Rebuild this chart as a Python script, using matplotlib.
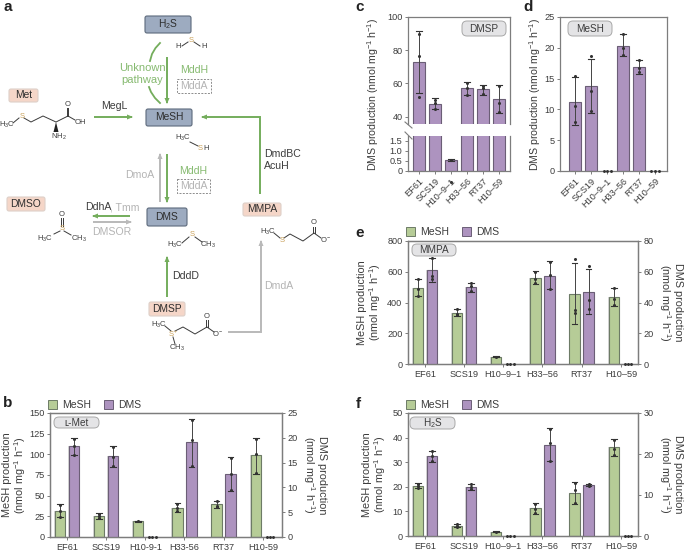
import matplotlib
matplotlib.use('Agg')
import matplotlib.pyplot as plt
from matplotlib.patches import FancyBboxPatch, Rectangle, Polygon

plt.rcParams['font.family'] = ['Liberation Sans', 'DejaVu Sans']
plt.rcParams['mathtext.default'] = 'regular'
plt.rcParams['font.size'] = 7

W, H = 685, 552
TEXT = '#3c3c3c'
AXC = '#7d7d7d'
GREEN = '#b6cc97'
GREEN_E = '#6d7b66'
PURPLE = '#ad93bf'
PURPLE_E = '#6b5e76'
ARROW = '#74ad5c'
LGREEN = '#86ba70'
GREY = '#b9b9b9'
LGREY = '#b4b4b4'

strains_b = ['EF61', 'SCS19', 'H10-9-1', 'H33-56', 'RT37', 'H10-59']
strains = ['EF61', 'SCS19', 'H10–9–1', 'H33–56', 'RT37', 'H10–59']

# panel b, L-Met
met_mesh = [31, 25, 19, 35.5, 40.5, 99]
met_mesh_lo = [24, 22, 18.5, 30, 35.5, 76]
met_mesh_hi = [40, 29, 19.5, 41, 44, 120]
met_mesh_pts = [[39, 31, 24], [28, 25, 23], [19], [40, 35, 31], [43, 38, 36], [119, 100, 77]]
met_dms = [18.3, 16.3, 0, 19.2, 12.7, 0]
met_dms_lo = [16.5, 14.2, 0, 14.2, 9.3, 0]
met_dms_hi = [20, 18.3, 0, 23.7, 16.2, 0]
met_dms_pts = [[19.8, 18.3, 16.6], [18.2, 16.2, 14.3], [], [23.5, 19.5, 14.3], [16, 12.8, 9.4], []]

# panel c, DMSP
dmsp_dms = [73, 47.5, 0.55, 57, 56.5, 50.5]
dmsp_lo = [54, 44.5, 0.5, 53, 53, 42]
dmsp_hi = [91.5, 51, 0.6, 61, 59, 59]
dmsp_pts = [[89.5, 76.5, 52], [50, 48, 44.5], [0.55], [60.5, 57, 53], [58.5, 57.5, 53.5], [58.5, 48, 43]]

# panel d, MeSH
mesh_dms = [11.2, 13.8, 0, 20.3, 16.9, 0]
mesh_lo = [7.5, 9.4, 0, 18.6, 15.8, 0]
mesh_hi = [15.2, 18.2, 0, 22.2, 18.1, 0]
mesh_pts = [[15.5, 10.5, 8], [18.6, 13, 9.8], [], [22.2, 20, 18.8], [18.1, 16.8, 16], []]

# panel e, MMPA
mmpa_mesh = [497, 330, 48, 560, 458, 435]
mmpa_mesh_lo = [442, 315, 46, 520, 262, 380]
mmpa_mesh_hi = [552, 358, 50, 605, 655, 495]
mmpa_mesh_pts = [[550, 490, 445], [355, 325, 318], [48], [600, 550, 525], [685, 350, 330], [495, 420, 385]]
mmpa_dms = [61, 50, 0, 57.5, 47, 0]
mmpa_dms_lo = [53.5, 47, 0, 48.5, 32.5, 0]
mmpa_dms_hi = [69, 53, 0, 67, 61.5, 0]
mmpa_dms_pts = [[69, 57, 55], [52.5, 50.5, 47.5], [], [66.5, 58, 49], [63.5, 41.5, 36], []]

# panel f, H2S
h2s_mesh = [20.5, 4.2, 1.8, 11.5, 17.5, 36]
h2s_mesh_lo = [19.5, 3.7, 1.7, 9, 13.2, 32.5]
h2s_mesh_hi = [21.5, 4.8, 1.9, 13.3, 21.8, 39.5]
h2s_mesh_pts = [[21.3, 20.5, 19.6], [4.7, 4.2, 3.8], [1.8], [13, 11, 9.3], [21.5, 18.5, 13.5], [39, 35.5, 32.8]]
h2s_dms = [19.4, 12, 0, 22.3, 12.4, 0]
h2s_dms_lo = [18, 11.2, 0, 18.2, 12.2, 0]
h2s_dms_hi = [20.8, 12.8, 0, 26.3, 12.7, 0]
h2s_dms_pts = [[20.7, 19.5, 18.2], [12.7, 12, 11.4], [], [26, 22.8, 18.4], [12.6, 12.4, 12.3], []]

fig = plt.figure(figsize=(W / 100, H / 100), dpi=100)


def px_axes(left, top, right, bottom):
    return fig.add_axes([left / W, 1 - bottom / H, (right - left) / W, (bottom - top) / H])


def style_axes(ax):
    ax.patch.set_alpha(0)
    for s in ax.spines.values():
        s.set_color(AXC)
        s.set_linewidth(0.9)
    ax.tick_params(colors=TEXT, color=AXC, labelsize=6.6, length=2.5, width=0.7, pad=1.5)


def draw_bars(ax, xs, vals, lo, hi, pts, color, edge, width, cap=0.07, dot=0.085):
    # soft halo behind each bar as in the original artwork
    ax.bar(xs, vals, width + 2 * cap * 0.25, color='#d6d6d6', zorder=1)
    ax.bar(xs, vals, width, color=color, edgecolor=edge, linewidth=0.8, zorder=2)
    for x, v, l, h, p in zip(xs, vals, lo, hi, pts):
        if v == 0:
            ax.plot([x - dot, x, x + dot], [v, v, v], ls='', marker='o', ms=1.1,
                    color='#333333', zorder=5, clip_on=False)
            continue
        ax.plot([x, x], [l, h], color='#444444', lw=0.7, zorder=4)
        ax.plot([x - cap, x + cap], [l, l], color='#333333', lw=0.8, zorder=4)
        ax.plot([x - cap, x + cap], [h, h], color='#333333', lw=0.8, zorder=4)
        ax.plot([x] * len(p), p, ls='', marker='o', ms=1.2, color='#333333', zorder=5, clip_on=False)


def pill(fig_ax, left, top, right, bottom, label):
    fig_ax.add_patch(FancyBboxPatch((left + 3, top + 3), right - left - 6, bottom - top - 6,
                                    boxstyle='round,pad=3,rounding_size=5', fc='#e4e4e6', ec='#a8a8a8', lw=0.7))
    fig_ax.text((left + right) / 2, (top + bottom) / 2, label, ha='center', va='center',
                fontsize=7.2, color=TEXT)


def dual_panel(box, labels, ymax1, ticks1, ymax2, ticks2, m, mlo, mhi, mp, d, dlo, dhi, dp, left_x, right_x, legend_gap):
    ax = px_axes(*box)
    style_axes(ax)
    xs = list(range(6))
    wpx = box[2] - box[0]
    xl = -0.43
    xr = xl + wpx / 39.2
    draw_bars(ax, [x - 0.18 for x in xs], m, mlo, mhi, mp, GREEN, GREEN_E, 0.27)
    ax.set_xlim(xl, xr)
    ax.set_ylim(0, ymax1)
    ax.set_yticks(ticks1)
    ax.set_xticks(xs)
    ax.set_xticklabels(labels)
    ax.set_ylabel('MeSH production\n(nmol mg$^{-1}$ h$^{-1}$)', color=TEXT, fontsize=7.8, linespacing=1.0, va='center')
    ax.yaxis.set_label_coords((left_x - box[0]) / wpx, 0.5)
    ax2 = ax.twinx()
    style_axes(ax2)
    draw_bars(ax2, [x + 0.18 for x in xs], d, dlo, dhi, dp, PURPLE, PURPLE_E, 0.27)
    ax2.set_ylim(0, ymax2)
    ax2.set_yticks(ticks2)
    ax2.set_ylabel('DMS production\n(nmol mg$^{-1}$ h$^{-1}$)', rotation=270, va='center', color=TEXT,
                   fontsize=7.8, linespacing=1.0)
    ax2.yaxis.set_label_coords((right_x - box[0]) / wpx, 0.5)
    handles = [Rectangle((0, 0), 1, 1, fc=GREEN, ec=GREEN_E, lw=0.7),
               Rectangle((0, 0), 1, 1, fc=PURPLE, ec=PURPLE_E, lw=0.7)]
    ax.legend(handles, ['MeSH', 'DMS'], loc='lower left', bbox_to_anchor=(-0.008, 1 + legend_gap / (box[3] - box[1])),
              ncol=2, frameon=False, fontsize=7.5, handlelength=0.85, handleheight=0.9, handletextpad=0.5,
              columnspacing=1.2, borderpad=0, borderaxespad=0, labelcolor=TEXT)
    return ax


dual_panel((50, 413, 282, 537), strains_b, 150, [0, 25, 50, 75, 100, 125, 150], 25, [0, 5, 10, 15, 20, 25],
           met_mesh, met_mesh_lo, met_mesh_hi, met_mesh_pts, met_dms, met_dms_lo, met_dms_hi, met_dms_pts, 15, 314, 3)
dual_panel((408, 241, 638, 364), strains, 800, [0, 200, 400, 600, 800], 80, [0, 20, 40, 60, 80],
           mmpa_mesh, mmpa_mesh_lo, mmpa_mesh_hi, mmpa_mesh_pts, mmpa_dms, mmpa_dms_lo, mmpa_dms_hi, mmpa_dms_pts,
           370, 670, 4)
dual_panel((408, 413, 638, 536), strains, 50, [0, 10, 20, 30, 40, 50], 30, [0, 10, 20, 30],
           h2s_mesh, h2s_mesh_lo, h2s_mesh_hi, h2s_mesh_pts, h2s_dms, h2s_dms_lo, h2s_dms_hi, h2s_dms_pts,
           375, 670, 3)

# panel c, broken y axis
xs6 = list(range(6))
c_top = px_axes(408, 17, 510, 124)
c_bot = px_axes(408, 136, 510, 171)
for a in (c_top, c_bot):
    style_axes(a)
    draw_bars(a, xs6, dmsp_dms, dmsp_lo, dmsp_hi, dmsp_pts, PURPLE, PURPLE_E, 0.7, cap=0.2, dot=0.2)
    a.set_xlim(-0.69, 5.69)
c_top.set_ylim(35.5, 100)
c_top.set_yticks([40, 60, 80, 100])
c_top.spines['bottom'].set_visible(False)
c_top.set_xticks([])
c_bot.set_ylim(0, 1.75)
c_bot.set_yticks([0, 0.5, 1.0, 1.5])
c_bot.set_yticklabels(['0', '0.5', '1.0', '1.5'])
c_bot.spines['top'].set_visible(False)
c_bot.set_xticks(xs6)
c_bot.set_xticklabels(strains, rotation=45, ha='right', rotation_mode='anchor', fontsize=6.6)

# panel d
d_ax = px_axes(560, 17, 667, 171)
style_axes(d_ax)
draw_bars(d_ax, xs6, mesh_dms, mesh_lo, mesh_hi, mesh_pts, PURPLE, PURPLE_E, 0.7, cap=0.2, dot=0.22)
d_ax.set_xlim(-0.94, 5.75)
d_ax.set_ylim(0, 25)
d_ax.set_yticks([0, 5, 10, 15, 20, 25])
d_ax.set_xticks(xs6)
d_ax.set_xticklabels(strains, rotation=45, ha='right', rotation_mode='anchor', fontsize=6.6)
d_ax.set_ylabel('DMS production (nmol mg$^{-1}$ h$^{-1}$)', color=TEXT, fontsize=7.6, va='center')
d_ax.yaxis.set_label_coords((535 - 560) / 107, 0.5)

# overlay in pixel coordinates for the pathway diagram and labels
ov = fig.add_axes([0, 0, 1, 1], zorder=10)
ov.set_xlim(0, W)
ov.set_ylim(H, 0)
ov.axis('off')
ov.patch.set_alpha(0)

c_label_y = (17 + 171) / 2
ov.text(373, c_label_y, 'DMS production (nmol mg$^{-1}$ h$^{-1}$)', rotation=90, ha='center', va='center',
        fontsize=7.6, color=TEXT)
ov.plot([405, 412], [122, 128], color=AXC, lw=0.8)
ov.plot([405, 412], [132, 139], color=AXC, lw=0.8)

for label_s, x, y in [('a', 8, 7), ('b', 8, 403), ('c', 360, 7), ('d', 528, 7), ('e', 360, 233), ('f', 358, 404)]:
    ov.text(x, y, label_s, fontsize=11, fontweight='bold', color='#222222', ha='center', va='center')

pill(ov, 54, 417, 99, 428, 'ʟ-Met')
pill(ov, 462, 21, 506, 36, 'DMSP')
pill(ov, 568, 21, 612, 36, 'MeSH')
pill(ov, 412, 244, 456, 256, 'MMPA')
pill(ov, 410, 417, 455, 429, 'H$_2$S')


def node(x0, y0, x1, y1, label_s, kind):
    fc, ec = ('#9dabc0', '#5d6a7c') if kind == 'blue' else ('#f5d6c8', '#ddd0c8')
    ov.add_patch(FancyBboxPatch((x0 + 2, y0 + 2), x1 - x0 - 4, y1 - y0 - 4, boxstyle='round,pad=2,rounding_size=2',
                                fc=fc, ec=ec, lw=0.8))
    ov.text((x0 + x1) / 2, (y0 + y1) / 2, label_s, ha='center', va='center', fontsize=7.4, color='#2e2e2e')


def arrow(points, color=ARROW, lw=1.4):
    xs, ys = zip(*points)
    ov.plot(xs, ys, color=color, lw=lw, solid_capstyle='butt', solid_joinstyle='miter')
    (x0, y0), (x1, y1) = points[-2], points[-1]
    dx = (x1 > x0) - (x1 < x0)
    dy = (y1 > y0) - (y1 < y0)
    ov.add_patch(Polygon([(x1 + dx, y1 + dy), (x1 - 5 * dx - 2.5 * dy, y1 - 5 * dy - 2.5 * dx),
                          (x1 - 5 * dx + 2.5 * dy, y1 - 5 * dy + 2.5 * dx)], fc=color, ec='none'))


def dashed_box(x0, y0, x1, y1):
    ov.add_patch(Rectangle((x0, y0), x1 - x0, y1 - y0, fc='none', ec='#8c8c8c', lw=0.7, ls=(0, (2, 1.4))))
    ov.text((x0 + x1) / 2, (y0 + y1) / 2, 'MddA', ha='center', va='center', fontsize=7.6, color=LGREY)


def label(x, y, s, color=TEXT, size=7.6, ha='center', **kw):
    ov.text(x, y, s, color=color, fontsize=size, ha=ha, va='center', **kw)


node(145, 16, 191, 33, 'H$_2$S', 'blue')
node(146, 109, 192, 126, 'MeSH', 'blue')
node(147, 208, 187, 226, 'DMS', 'blue')
node(9, 89, 38, 102, 'Met', 'salmon')
node(7, 197, 45, 211, 'DMSO', 'salmon')
node(243, 203, 281, 216, 'MMPA', 'salmon')
node(149, 302, 185, 316, 'DMSP', 'salmon')

arrow([(167, 57), (167, 103)])
arrow([(94, 117), (132, 117)])
arrow([(260, 194), (260, 117), (202, 117)])
arrow([(160, 202), (160, 154)], GREY)
arrow([(167, 154), (167, 202)])
arrow([(130, 216), (93, 216)])
arrow([(93, 222), (131, 222)], GREY)
arrow([(167, 297), (167, 257)])
arrow([(228, 332), (261, 332), (261, 241)], GREY)

# curved "unknown pathway" line either side of its label
ov.plot([160, 155.5, 152, 150], [43, 48, 54, 61], color=ARROW, lw=1.3)
ov.plot([149, 151, 155, 160], [87, 92, 98, 103], color=ARROW, lw=1.3)

label(142, 68, 'Unknown', LGREEN, size=8)
label(142, 80, 'pathway', LGREEN, size=8)
label(194, 70, 'MddH', LGREEN)
dashed_box(177, 79, 211, 93)
label(114, 106, 'MegL')
label(264, 154, 'DmdBC', ha='left')
label(264, 166, 'AcuH', ha='left')
label(140, 175, 'DmoA', LGREY)
label(193, 171, 'MddH', LGREEN)
dashed_box(177, 179, 210, 193)
label(85, 207, 'DdhA', ha='left')
label(110, 207, ', Tmm', LGREY, ha='left')
label(112, 232, 'DMSOR', LGREY)
label(186, 276, 'DddD')
label(279, 286, 'DmdA', LGREY)

# skeletal formulas: (bonds), then atom labels
BOND = '#3a3a3a'
SULFUR = '#c9a15a'


def bonds(*chains):
    for chain in chains:
        xs, ys = zip(*chain)
        ov.plot(xs, ys, color=BOND, lw=0.7, solid_joinstyle='miter')


def atoms(items):
    for x, y, s in items:
        col = SULFUR if s.startswith('S') and s != 'SH' else TEXT
        ov.text(x, y, s, fontsize=5.5, ha='center', va='center', color=col)


bonds([(182, 46), (188, 42)], [(194, 42), (200, 46)])
atoms([(191, 40, 'S'), (178, 47, 'H'), (204, 47, 'H')])

bonds([(13, 123), (19, 118)], [(24, 118), (31, 122), (43, 116), (56, 122), (68, 116), (75, 120)],
      [(67, 116), (67, 108)], [(68.5, 116), (68.5, 108)])
atoms([(7, 125, 'H$_3$C'), (22, 116, 'S'), (68, 104, 'O'), (80, 122, 'OH'), (59, 137, 'NH$_2$')])
ov.add_patch(Polygon([(56, 122), (53.5, 132), (58.5, 132)], fc='#222222', ec='none'))

bonds([(190, 142), (198, 146)])
atoms([(183, 138, 'H$_3$C'), (200, 148, 'S'), (206, 148, 'H')])

bonds([(54, 234), (60, 231)], [(64, 231), (71, 235)], [(61, 226), (61, 218)], [(63, 226), (63, 218)])
atoms([(62, 229, 'S'), (62, 214, 'O'), (45, 239, 'H$_3$C'), (79, 239, 'CH$_3$')])

bonds([(182, 243), (189, 237)], [(195, 237), (202, 242)])
atoms([(192, 235, 'S'), (175, 245, 'H$_3$C'), (208, 245, 'CH$_3$')])

bonds([(274, 233), (280, 238)], [(284, 238), (290, 234), (303, 241), (314, 233), (321, 238)],
      [(313, 233), (313, 227)], [(315, 233), (315, 227)])
atoms([(268, 232, 'H$_3$C'), (282, 241, 'S'), (314, 223, 'O'), (325, 240, 'O$^{-}$')])

bonds([(165, 326), (171, 331)], [(175, 331), (183, 327), (195, 334), (207, 327), (214, 332)],
      [(173, 337), (175, 344)], [(206, 327), (206, 320)], [(208, 327), (208, 320)])
atoms([(159, 325, 'H$_3$C'), (173, 334, 'S$^{+}$'), (177, 348, 'CH$_3$'), (207, 317, 'O'), (217, 333, 'O$^{-}$')])

fig.savefig('out.png', dpi=100)
